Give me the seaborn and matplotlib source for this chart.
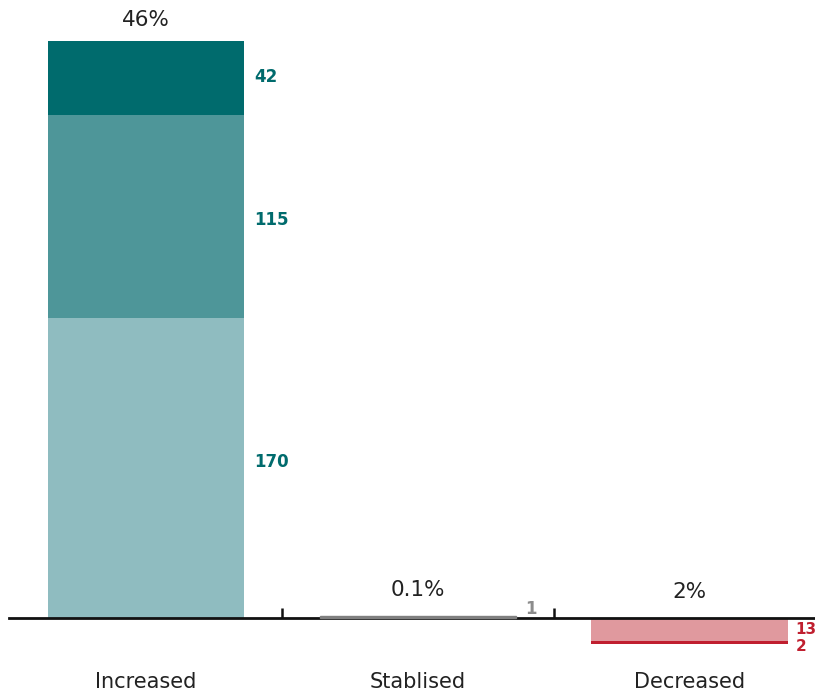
import matplotlib
matplotlib.use("Agg")
import matplotlib.pyplot as plt
import seaborn as sns
import pandas as pd

categories = ["Increased", "Stablised", "Decreased"]
base_vals = [170, 1, -13]
middle_vals = [115, 0, -2]
top_vals = [42, 0, 0]
percent_labels = ["46%", "0.1%", "2%"]

colors = {
    "Increased": ["#8fbcc0", "#4e9699", "#006b6d"],
    "Stablised": ["#808080", "#808080", "#808080"],
    "Decreased": ["#e0999e", "#c01f2f", "#c01f2f"],
}
label_colors = {"Increased": "#006b6d", "Stablised": "#8c8c8c", "Decreased": "#c01f2f"}

sns.set_style("white")
plt.rcParams["font.family"] = ["DejaVu Sans"]

fig = plt.figure(figsize=(8.15, 6.96), dpi=100)
ax = fig.add_axes([9 / 815, 36 / 696, 1 - 9 / 815, 660 / 696])

width = 0.724
layers = [base_vals, middle_vals, top_vals]
for i, cat in enumerate(categories):
    bottom = 0.0
    for li, vals in enumerate(layers):
        v = vals[i]
        if v == 0:
            continue
        df = pd.DataFrame({"cat": [cat], "val": [v]})
        kw = dict(linewidth=0)
        z = 2
        if cat == "Stablised":
            kw = dict(linewidth=1.0, edgecolor=colors[cat][li])
            z = 6
        sns.barplot(data=df, x="cat", y="val", order=categories, color=colors[cat][li],
                    saturation=1, width=width, bottom=bottom, ax=ax, errorbar=None,
                    zorder=z, **kw)
        mid = bottom + v / 2
        xoff, yoff, fs = 7, 0, 12
        if cat == "Increased":
            yoff = [4.5, -2.5, 0.5][li]
        if cat == "Stablised":
            xoff, yoff = 6, 6
        if cat == "Decreased":
            xoff, fs = 5, 11
            yoff = 0 if li == 0 else -3
        ax.annotate(str(abs(v)), xy=(i + width / 2, mid), xytext=(xoff, yoff),
                    textcoords="offset points", ha="left", va="center",
                    fontsize=fs, fontweight="bold", color=label_colors[cat])
        bottom += v

totals = [sum(v for v in (b, m, t) if v > 0) for b, m, t in zip(base_vals, middle_vals, top_vals)]
for i, (lab, tot) in enumerate(zip(percent_labels, totals)):
    off = 15 if i == 0 else 19
    ax.annotate(lab, xy=(i, tot), xytext=(0, off), textcoords="offset points",
                ha="center", va="center", fontsize=15.5, color="#222222")

ax.set_xlim(-0.504, 2.46)
ax.set_ylim(-23.8, 350.2)

for s in ["top", "right", "left"]:
    ax.spines[s].set_visible(False)
ax.spines["bottom"].set_position(("data", 0))
ax.spines["bottom"].set_linewidth(2.0)
ax.spines["bottom"].set_color("#111111")
ax.spines["bottom"].set_zorder(5)

ax.set_yticks([])
ax.set_xticks(range(len(categories)))
ax.set_xticklabels(categories)
ax.tick_params(axis="x", which="both", bottom=True)
ax.tick_params(axis="x", which="major", length=0, pad=39, labelsize=15, labelcolor="#222222")
ax.set_xticks([0.5, 1.5], minor=True)
ax.tick_params(axis="x", which="minor", direction="in", length=7, width=1.8, color="#111111")
ax.set_xlabel("")
ax.set_ylabel("")

fig.savefig("out.png", dpi=100)
